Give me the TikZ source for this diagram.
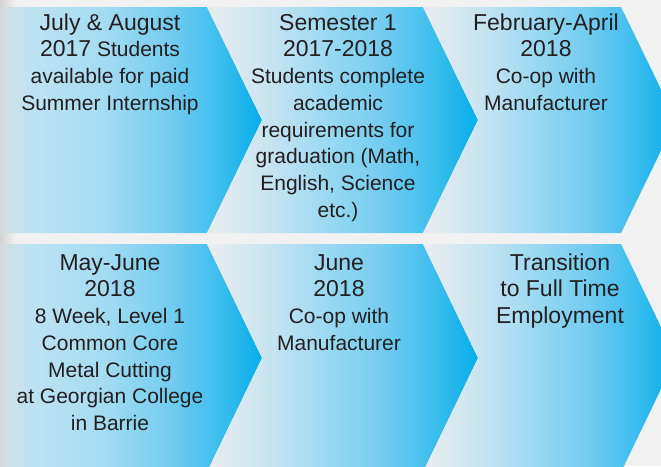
\documentclass[tikz,border=0pt]{standalone}
\usepackage{fontspec}
\setmainfont{Liberation Sans}
\definecolor{bg}{HTML}{F1F1F1}
\definecolor{ink}{HTML}{231F20}
\pgfdeclarehorizontalshading{chevA}{100bp}{rgb(0bp)=(0.84,0.85,0.86); rgb(25bp)=(0.84,0.85,0.86); rgb(27.5bp)=(0.80,0.88,0.91); rgb(31bp)=(0.74,0.89,0.95); rgb(45bp)=(0.64,0.86,0.95); rgb(57.5bp)=(0.45,0.80,0.94); rgb(67.5bp)=(0.22,0.74,0.93); rgb(75bp)=(0.02,0.68,0.92); rgb(100bp)=(0.02,0.68,0.92)}
\pgfdeclarehorizontalshading{chevB}{100bp}{rgb(0bp)=(0.92,0.93,0.94); rgb(25bp)=(0.92,0.93,0.94); rgb(35bp)=(0.80,0.90,0.94); rgb(45bp)=(0.64,0.86,0.95); rgb(57.5bp)=(0.45,0.80,0.94); rgb(67.5bp)=(0.22,0.74,0.93); rgb(75bp)=(0.02,0.68,0.92); rgb(100bp)=(0.02,0.68,0.92)}
\newcommand\hdfont{\fontsize{23}{26.7}\selectfont}
\newcommand\bdfont{\fontsize{21}{26.7}\selectfont}
\newcommand\firststrut{\rule{0pt}{18pt}}
\tikzset{
  lbl/.style={anchor=north, inner sep=0pt, align=center, text=ink, font=\bdfont},
  firstchev/.style={shading=chevA},
  nextchev/.style={shading=chevB}
}
\begin{document}
\begin{tikzpicture}[x=1pt,y=-1pt]
\useasboundingbox (0,0) rectangle (661,466);
\clip (0,0) rectangle (661,466);
\fill[bg] (0,0) rectangle (661,466);
\shade[left color=black!17, right color=bg] (0,0) rectangle (16,466);
% row 1
\shade[firstchev] (0,7) -- (207,7) -- (262,120) -- (207,233) -- (0,233) -- cycle;
\shade[nextchev] (207,7) -- (423,7) -- (478,120) -- (423,233) -- (207,233) -- (262,120) -- cycle;
\shade[nextchev] (423,7) -- (621,7) -- (676,120) -- (621,233) -- (423,233) -- (478,120) -- cycle;
% row 2
\shade[firstchev] (0,244) -- (207,244) -- (262,358) -- (207,472) -- (0,472) -- cycle;
\shade[nextchev] (207,244) -- (423,244) -- (478,358) -- (423,472) -- (207,472) -- (262,358) -- cycle;
\shade[nextchev] (423,244) -- (621,244) -- (676,358) -- (621,472) -- (423,472) -- (478,358) -- cycle;
% texts
\node[lbl] (t11) at (110,12) {\firststrut{\hdfont July \& August}\\{\hdfont 2017} Students\\available for paid\\Summer Internship};
\node[lbl] (t12) at (338,12) {\firststrut{\hdfont Semester 1}\\{\hdfont 2017-2018}\\Students complete\\academic\\requirements for\\graduation (Math,\\English, Science\\etc.)};
\node[lbl] (t13) at (546,12) {\firststrut{\hdfont February-April}\\{\hdfont 2018}\\Co-op with\\Manufacturer};
\node[lbl] (t21) at (110,252) {\firststrut{\hdfont May-June}\\{\hdfont 2018}\\8 Week, Level 1\\Common Core\\Metal Cutting\\at Georgian College\\in Barrie};
\node[lbl] (t22) at (339,252) {\firststrut{\hdfont June}\\{\hdfont 2018}\\Co-op with\\Manufacturer};
\node[lbl] (t23) at (560,252) {\firststrut{\hdfont Transition}\\{\hdfont to Full Time}\\{\hdfont Employment}};
\end{tikzpicture}
\end{document}
